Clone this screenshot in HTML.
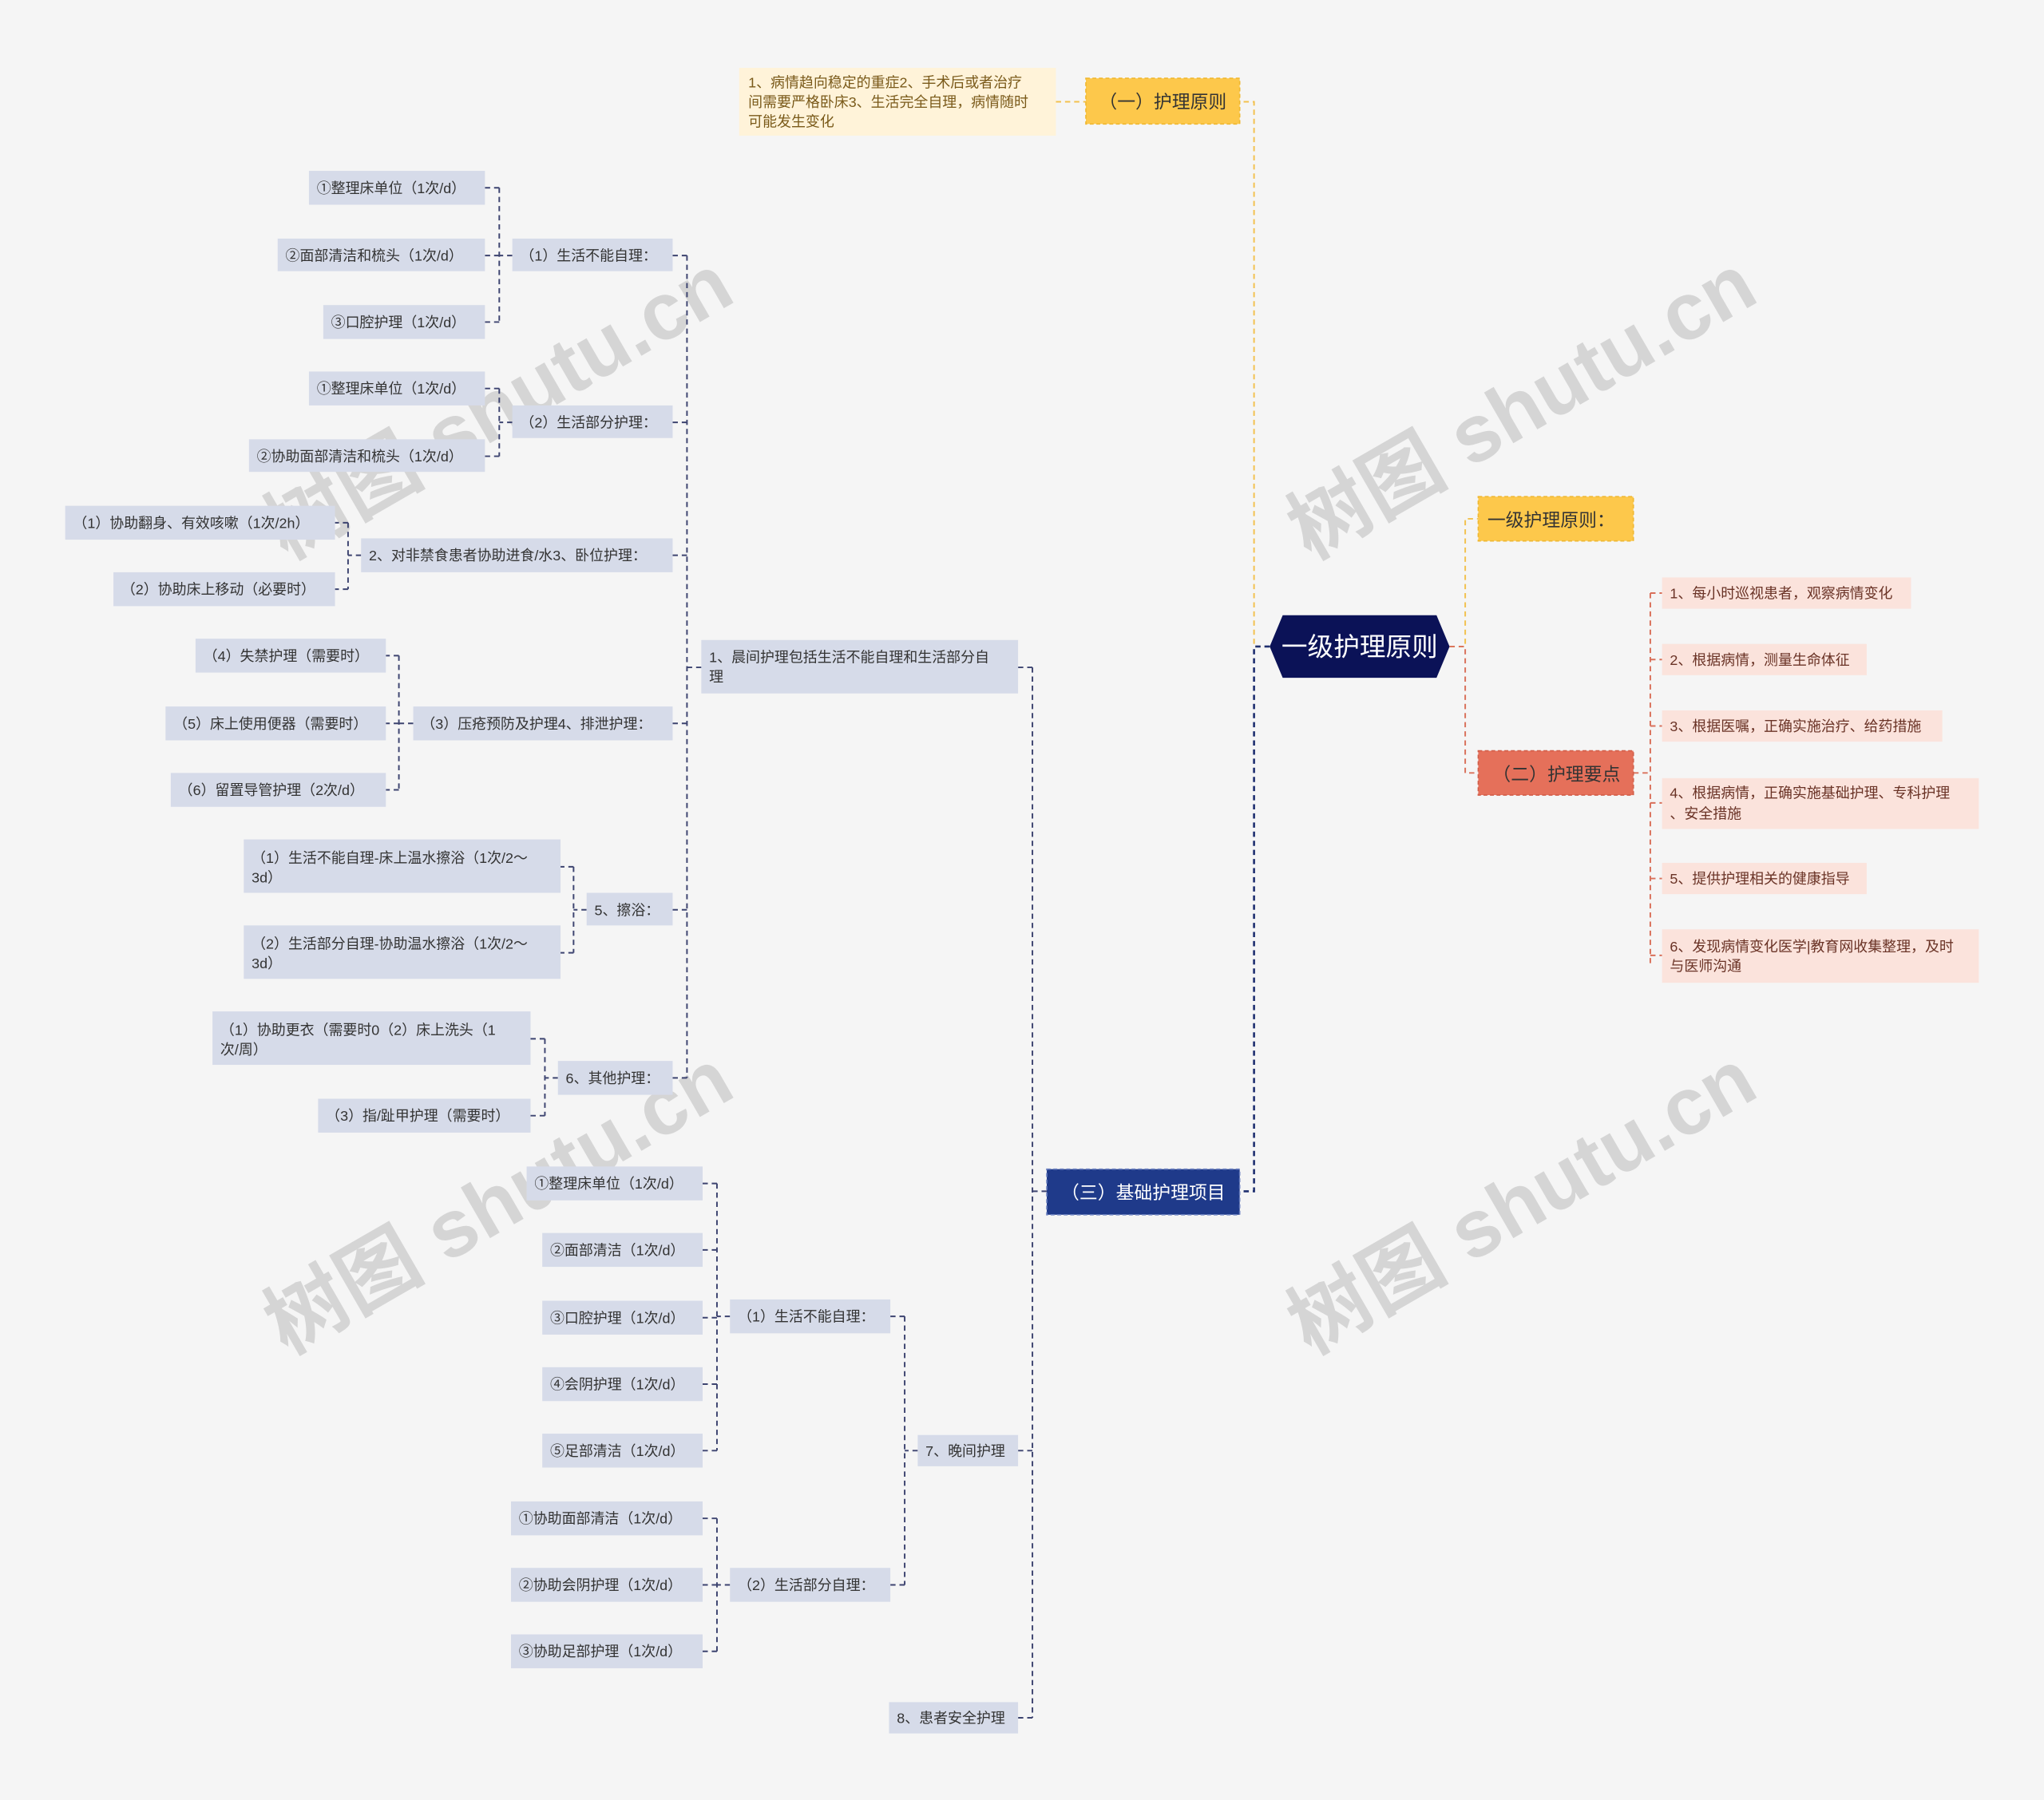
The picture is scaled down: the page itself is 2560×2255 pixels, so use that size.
<!DOCTYPE html>
<html><head><meta charset="utf-8"><style>
html,body{margin:0;padding:0;background:#f5f5f5;}
svg{display:block;}
text{font-family:"Liberation Sans","Noto Sans CJK SC",sans-serif;}
</style></head><body>
<svg width="2560" height="2255" viewBox="0 0 1568 1381" xmlns="http://www.w3.org/2000/svg">
<rect width="1568" height="1381" fill="#f5f5f5"/>
<g fill="#c8c8c8" fill-opacity="0.7" font-size="62" font-weight="bold">
<text transform="translate(220,1040) rotate(-30)" font-family="Liberation Serif,Noto Serif CJK SC,serif">树图 shutu.cn</text>
<text transform="translate(220,430) rotate(-30)" font-family="Liberation Serif,Noto Serif CJK SC,serif">树图 shutu.cn</text>
<text transform="translate(1005,430) rotate(-30)" font-family="Liberation Serif,Noto Serif CJK SC,serif">树图 shutu.cn</text>
<text transform="translate(1005,1040) rotate(-30)" font-family="Liberation Serif,Noto Serif CJK SC,serif">树图 shutu.cn</text>
</g>
<!-- connectors -->
<g fill="none" stroke-width="1.2" stroke-dasharray="4,3">
<path stroke="#f2c14e" d="M974 496H962V78H951 M810 78H833"/>
<path stroke="#1f2f70" stroke-width="1.6" d="M974 496H962V914H951"/>
<path stroke="#f2c14e" d="M1112 496H1124V398H1134"/>
<path stroke="#d9705a" d="M1112 496H1124V593H1134"/>
<path stroke="#d9705a" d="M1253 593H1266 M1266 455V741 M1266 455H1275 M1266 506H1275 M1266 557H1275 M1266 616H1275 M1266 674H1275 M1266 733H1275"/>
<g stroke="#3d4470">
<path d="M803 914H792 M792 512V1318 M792 512H781 M792 1113H781 M792 1318H781"/>
<path d="M538 512H527 M527 196V827 M527 196H516 M527 324H516 M527 426H516 M527 555H516 M527 698H516 M527 827H516"/>
<path d="M393 196H383 M383 144V247 M383 144H372 M383 196H372 M383 247H372"/>
<path d="M393 324H383 M383 298V350 M383 298H372 M383 350H372"/>
<path d="M277 426H267 M267 401V452 M267 401H257 M267 452H257"/>
<path d="M317 555H306 M306 503V606 M306 503H296 M306 555H296 M306 606H296"/>
<path d="M450 698H440 M440 665V731 M440 665H430 M440 731H430"/>
<path d="M428 827H418 M418 797V856 M418 797H407 M418 856H407"/>
<path d="M704 1113H694 M694 1010V1216 M694 1010H683 M694 1216H683"/>
<path d="M560 1010H550 M550 908V1113 M550 908H539 M550 959H539 M550 1011H539 M550 1062H539 M550 1113H539"/>
<path d="M560 1216H550 M550 1165V1267 M550 1165H539 M550 1216H539 M550 1267H539"/>
</g>
</g>
<!-- root -->
<polygon points="984,472 1102,472 1112,496 1102,520 984,520 974,496" fill="#0b1257"/>
<text x="1043" y="503" font-size="20" fill="#fff" text-anchor="middle">一级护理原则</text>
<!-- yellow -->
<rect x="567" y="52" width="243" height="52" fill="#fff3d9"/>
<g font-size="11" fill="#7a5a1a"><text x="574" y="67">1、病情趋向稳定的重症2、手术后或者治疗</text><text x="574" y="82">间需要严格卧床3、生活完全自理，病情随时</text><text x="574" y="97">可能发生变化</text></g>
<rect x="833" y="60" width="118" height="35" fill="#fdc84b" stroke="#f0b830" stroke-dasharray="3,2"/>
<text x="892" y="83" font-size="14" fill="#333" text-anchor="middle">（一）护理原则</text>
<rect x="1134" y="381" width="119" height="34" fill="#fdc84b" stroke="#f0b830" stroke-dasharray="3,2"/>
<text x="1141" y="404" font-size="14" fill="#333">一级护理原则：</text>
<rect x="1134" y="576" width="119" height="34" fill="#e5705a" stroke="#d25e48" stroke-dasharray="3,2"/>
<text x="1194" y="599" font-size="14" fill="#333" text-anchor="middle">（二）护理要点</text>
<!-- pink -->
<g fill="#fbe3dc"><rect x="1275" y="443" width="191" height="24"/><rect x="1275" y="494" width="157" height="24"/><rect x="1275" y="545" width="215" height="24"/><rect x="1275" y="597" width="243" height="39"/><rect x="1275" y="662" width="157" height="24"/><rect x="1275" y="713" width="243" height="41"/></g>
<g font-size="11" fill="#6a3326">
<text x="1281" y="459">1、每小时巡视患者，观察病情变化</text>
<text x="1281" y="510">2、根据病情，测量生命体征</text>
<text x="1281" y="561">3、根据医嘱，正确实施治疗、给药措施</text>
<text x="1281" y="612">4、根据病情，正确实施基础护理、专科护理</text><text x="1281" y="628">、安全措施</text>
<text x="1281" y="730">6、发现病情变化医学|教育网收集整理，及时</text><text x="1281" y="745">与医师沟通</text>
<text x="1281" y="678">5、提供护理相关的健康指导</text>
</g>
<!-- navy -->
<rect x="803" y="897" width="148" height="35" fill="#1f3a8a" stroke="#6b80c0" stroke-dasharray="3,2"/>
<text x="877" y="920" font-size="14" fill="#fff" text-anchor="middle">（三）基础护理项目</text>
<!-- grey-blue nodes -->
<g fill="#d6dbe9">
<rect x="538" y="491" width="243" height="41"/><rect x="704" y="1101" width="77" height="24"/><rect x="682" y="1306" width="99" height="24"/>
<rect x="393" y="183" width="123" height="25"/><rect x="393" y="311" width="123" height="25"/><rect x="277" y="413" width="239" height="26"/><rect x="317" y="542" width="199" height="26"/><rect x="450" y="685" width="66" height="25"/><rect x="428" y="814" width="88" height="26"/>
<rect x="237" y="131" width="135" height="26"/><rect x="213" y="183" width="159" height="25"/><rect x="248" y="234" width="124" height="26"/>
<rect x="237" y="285" width="135" height="26"/><rect x="191" y="337" width="181" height="25"/>
<rect x="50" y="388" width="207" height="26"/><rect x="87" y="439" width="170" height="26"/>
<rect x="150" y="490" width="146" height="26"/><rect x="127" y="542" width="169" height="26"/><rect x="131" y="593" width="165" height="26"/>
<rect x="187" y="644" width="243" height="41"/><rect x="187" y="710" width="243" height="41"/>
<rect x="163" y="776" width="244" height="41"/><rect x="244" y="843" width="163" height="26"/>
<rect x="560" y="997" width="123" height="26"/><rect x="560" y="1203" width="123" height="26"/>
<rect x="404" y="895" width="135" height="26"/><rect x="416" y="946" width="123" height="26"/><rect x="416" y="998" width="123" height="26"/><rect x="416" y="1049" width="123" height="26"/><rect x="416" y="1100" width="123" height="26"/>
<rect x="392" y="1152" width="147" height="26"/><rect x="392" y="1203" width="147" height="26"/><rect x="392" y="1254" width="147" height="26"/>
</g>
<g font-size="11" fill="#333">
<text x="544" y="508">1、晨间护理包括生活不能自理和生活部分自</text><text x="544" y="523">理</text>
<text x="710" y="1117">7、晚间护理</text><text x="688" y="1322">8、患者安全护理</text>
<text x="399" y="200">（1）生活不能自理：</text><text x="399" y="328">（2）生活部分护理：</text>
<text x="283" y="430">2、对非禁食患者协助进食/水3、卧位护理：</text><text x="323" y="559">（3）压疮预防及护理4、排泄护理：</text>
<text x="456" y="702">5、擦浴：</text><text x="434" y="831">6、其他护理：</text>
<text x="243" y="148">①整理床单位（1次/d）</text><text x="219" y="200">②面部清洁和梳头（1次/d）</text><text x="254" y="251">③口腔护理（1次/d）</text>
<text x="243" y="302">①整理床单位（1次/d）</text><text x="197" y="354">②协助面部清洁和梳头（1次/d）</text>
<text x="56" y="405">（1）协助翻身、有效咳嗽（1次/2h）</text><text x="93" y="456">（2）协助床上移动（必要时）</text>
<text x="156" y="507">（4）失禁护理（需要时）</text><text x="133" y="559">（5）床上使用便器（需要时）</text><text x="137" y="610">（6）留置导管护理（2次/d）</text>
<text x="193" y="662">（1）生活不能自理-床上温水擦浴（1次/2～</text><text x="193" y="677">3d）</text>
<text x="193" y="728">（2）生活部分自理-协助温水擦浴（1次/2～</text><text x="193" y="743">3d）</text>
<text x="169" y="794">（1）协助更衣（需要时0（2）床上洗头（1</text><text x="169" y="809">次/周）</text>
<text x="250" y="860">（3）指/趾甲护理（需要时）</text>
<text x="566" y="1014">（1）生活不能自理：</text><text x="566" y="1220">（2）生活部分自理：</text>
<text x="410" y="912">①整理床单位（1次/d）</text><text x="422" y="963">②面部清洁（1次/d）</text><text x="422" y="1015">③口腔护理（1次/d）</text><text x="422" y="1066">④会阴护理（1次/d）</text><text x="422" y="1117">⑤足部清洁（1次/d）</text>
<text x="398" y="1169">①协助面部清洁（1次/d）</text><text x="398" y="1220">②协助会阴护理（1次/d）</text><text x="398" y="1271">③协助足部护理（1次/d）</text>
</g>
</svg>
</body></html>
